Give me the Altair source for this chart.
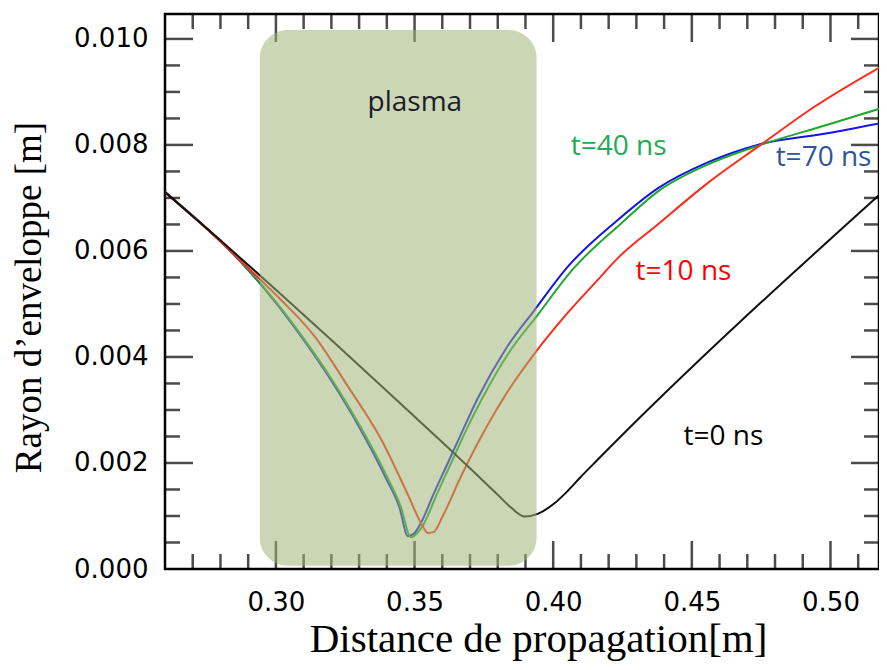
import altair as alt
import pandas as pd

# ---- axis ranges and ticks ----
X_MIN, X_MAX = 0.26, 0.5175
Y_MIN, Y_MAX = 0.0, 0.01047
X_LABELS = [0.30, 0.35, 0.40, 0.45, 0.50]
X_MINOR = [0.27, 0.28, 0.29, 0.31, 0.32, 0.33, 0.34, 0.36, 0.37, 0.38, 0.39,
           0.41, 0.42, 0.43, 0.44, 0.46, 0.47, 0.48, 0.49, 0.51]
Y_LABELS = [0.000, 0.002, 0.004, 0.006, 0.008, 0.010]
Y_MAJOR = [0.002, 0.004, 0.006, 0.008, 0.010]
Y_MINOR = [0.0005, 0.001, 0.0015, 0.0025, 0.003, 0.0035, 0.0045, 0.005, 0.0055,
           0.0065, 0.007, 0.0075, 0.0085, 0.009, 0.0095]

# ---- series (envelope radius vs propagation distance) ----
t0_x = [0.26, 0.28, 0.30, 0.32, 0.34, 0.36, 0.372, 0.380, 0.385, 0.3897,
        0.3944, 0.400, 0.405, 0.410, 0.416, 0.52]
t0_y = [0.00711, 0.00620, 0.00527, 0.00432, 0.00336, 0.00239, 0.00180, 0.00140,
        0.00115, 0.00099, 0.00104, 0.00122, 0.00146, 0.00174, 0.00206, 0.00717]

t10_x = [0.26, 0.28, 0.29, 0.3018, 0.3141, 0.3259, 0.3378, 0.3476, 0.3523, 0.3548,
         0.3570, 0.3600, 0.3667, 0.3764, 0.3824, 0.3938, 0.4052, 0.416, 0.4232,
         0.4377, 0.4557, 0.4748, 0.4942, 0.52]
t10_y = [0.00711, 0.00618, 0.00568, 0.00508, 0.00438, 0.00345, 0.00246, 0.00140,
         0.00087, 0.00068, 0.00070, 0.00098, 0.00174, 0.00272, 0.00325, 0.00410,
         0.00483, 0.00545, 0.00586, 0.0065, 0.00728, 0.008, 0.00872, 0.00953]

t40_x = [0.26, 0.28, 0.29, 0.30, 0.31, 0.32, 0.33, 0.34, 0.345, 0.3487, 0.3510,
         0.3535, 0.3582, 0.3632, 0.3687, 0.374, 0.384, 0.3945, 0.4065, 0.4245,
         0.4377, 0.4557, 0.4748, 0.4989, 0.52]
t40_y = [0.00711, 0.00618, 0.00565, 0.00504, 0.00435, 0.00359, 0.00273, 0.00175,
         0.00118, 0.00060, 0.00068, 0.00087, 0.00143, 0.00200, 0.00263, 0.00318,
         0.00408, 0.00480, 0.00562, 0.00652, 0.00712, 0.00763, 0.00800, 0.00838,
         0.00872]

t70_x = [0.26, 0.28, 0.29, 0.30, 0.31, 0.32, 0.33, 0.34, 0.3445, 0.3476, 0.3500,
         0.3523, 0.3570, 0.362, 0.3675, 0.3728, 0.383, 0.3932, 0.4052, 0.4232,
         0.4377, 0.4557, 0.4737, 0.4989, 0.52]
t70_y = [0.00711, 0.00618, 0.00564, 0.00502, 0.00432, 0.00355, 0.00268, 0.00168,
         0.00117, 0.00062, 0.00068, 0.00087, 0.00143, 0.00200, 0.00263, 0.00322,
         0.00416, 0.00488, 0.00570, 0.00658, 0.00718, 0.00767, 0.00800, 0.00822,
         0.00843]

SERIES = ["t=70 ns", "t=40 ns", "t=10 ns", "t=0 ns"]
LINE_COLORS = ["#1414e6", "#1ea82e", "#ff2a1a", "#111111"]

# plasma region
PLASMA_X = [0.2942, 0.3940]
PLASMA_Y = [0.00006, 0.01017]

# annotations (label, x, y, colour)
ANN_TEXT = ["plasma", "t=40 ns", "t=70 ns", "t=10 ns", "t=0 ns"]
ANN_X = [0.3501, 0.4236, 0.4975, 0.4470, 0.4614]
ANN_Y = [0.00880, 0.00796, 0.00775, 0.00560, 0.00249]
ANN_COLORS = ["#1c1c28", "#22aa55", "#2f5597", "#ff0000", "#000000"]

rows = []
for name, xs_, ys_ in [("t=70 ns", t70_x, t70_y), ("t=40 ns", t40_x, t40_y),
                       ("t=10 ns", t10_x, t10_y), ("t=0 ns", t0_x, t0_y)]:
    for i, (a, b) in enumerate(zip(xs_, ys_)):
        rows.append({"serie": name, "x": a, "y": b, "i": i})
df = pd.DataFrame(rows)

xsc = alt.Scale(domain=[X_MIN, X_MAX], nice=False, zero=False)
ysc = alt.Scale(domain=[Y_MIN, Y_MAX], nice=False, zero=False)

x_axis = alt.Axis(values=X_LABELS, format=".2f", title="Distance de propagation[m]",
                  ticks=False, domain=False, grid=False,
                  labelFont="DejaVu Sans", labelFontSize=26, labelPadding=20,
                  labelColor="black",
                  titleFont="Liberation Serif", titleFontSize=41, titleFontWeight="normal",
                  titleColor="black", titleX=373, titleY=82, titleBaseline="alphabetic",
                  titleAlign="center")
y_axis = alt.Axis(values=Y_LABELS, format=".3f", title="Rayon d\u2019enveloppe [m]",
                  ticks=False, domain=False, grid=False,
                  labelFont="DejaVu Sans", labelFontSize=26, labelPadding=17,
                  labelColor="black",
                  titleFont="Liberation Serif", titleFontSize=37, titleFontWeight="normal",
                  titleColor="black", titleX=-125, titleY=283, titleBaseline="alphabetic",
                  titleAlign="center", titleAngle=270)


def X(field):
    return alt.X(field, type="quantitative", scale=xsc, axis=x_axis)


def Y(field):
    return alt.Y(field, type="quantitative", scale=ysc, axis=y_axis)


lines = alt.Chart(df).mark_line(strokeWidth=2, clip=True, interpolate="monotone").encode(
    x=X("x"),
    y=Y("y"),
    color=alt.Color("serie:N", scale=alt.Scale(domain=SERIES, range=LINE_COLORS), legend=None),
    order="i:Q",
)

tick_len_major, tick_len_minor, tick_w = 28, 15, 2.5


def xticks(vals, size, at, off):
    return alt.Chart(pd.DataFrame({"x": vals})).mark_tick(
        orient="vertical", size=size, thickness=tick_w, color="black", yOffset=off
    ).encode(x=X("x"), y=alt.YDatum(at, type="quantitative", scale=ysc, axis=y_axis))


def yticks(vals, size, at, off):
    return alt.Chart(pd.DataFrame({"y": vals})).mark_tick(
        orient="horizontal", size=size, thickness=tick_w, color="black", xOffset=off
    ).encode(y=Y("y"), x=alt.XDatum(at, type="quantitative", scale=xsc, axis=x_axis))


ticks = [
    xticks(X_LABELS, tick_len_major, Y_MIN, -tick_len_major / 2),
    xticks(X_MINOR, tick_len_minor, Y_MIN, -tick_len_minor / 2),
    xticks(X_LABELS, tick_len_major, Y_MAX, tick_len_major / 2),
    xticks(X_MINOR, tick_len_minor, Y_MAX, tick_len_minor / 2),
    yticks(Y_MAJOR, tick_len_major, X_MIN, tick_len_major / 2),
    yticks(Y_MINOR, tick_len_minor, X_MIN, tick_len_minor / 2),
    yticks(Y_MAJOR, tick_len_major, X_MAX, -tick_len_major / 2),
    yticks(Y_MINOR, tick_len_minor, X_MAX, -tick_len_minor / 2),
]

plasma = alt.Chart(pd.DataFrame({"x": [PLASMA_X[0]], "x2": [PLASMA_X[1]],
                                 "y": [PLASMA_Y[0]], "y2": [PLASMA_Y[1]]})).mark_rect(
    cornerRadius=28, color="#9db375", opacity=0.54
).encode(x=X("x"), x2="x2:Q", y=Y("y"), y2="y2:Q")

ann = pd.DataFrame({"t": ANN_TEXT, "x": ANN_X, "y": ANN_Y, "c": ANN_COLORS})
texts = alt.Chart(ann).mark_text(font="Open Sans", fontSize=28, baseline="middle",
                                 align="center").encode(
    x=X("x"),
    y=Y("y"),
    text="t:N",
    color=alt.Color("c:N", scale=None, legend=None),
)

chart = alt.layer(lines, *ticks, plasma, texts).properties(
    width=714, height=555,
    padding={"left": 157, "top": 6, "right": 0, "bottom": 92},
    autosize=alt.AutoSizeParams(type="none"),
    background="white",
).configure_view(stroke="black", strokeWidth=2.5)

chart.save("out.html", embed_options={"renderer": "svg", "actions": False})
